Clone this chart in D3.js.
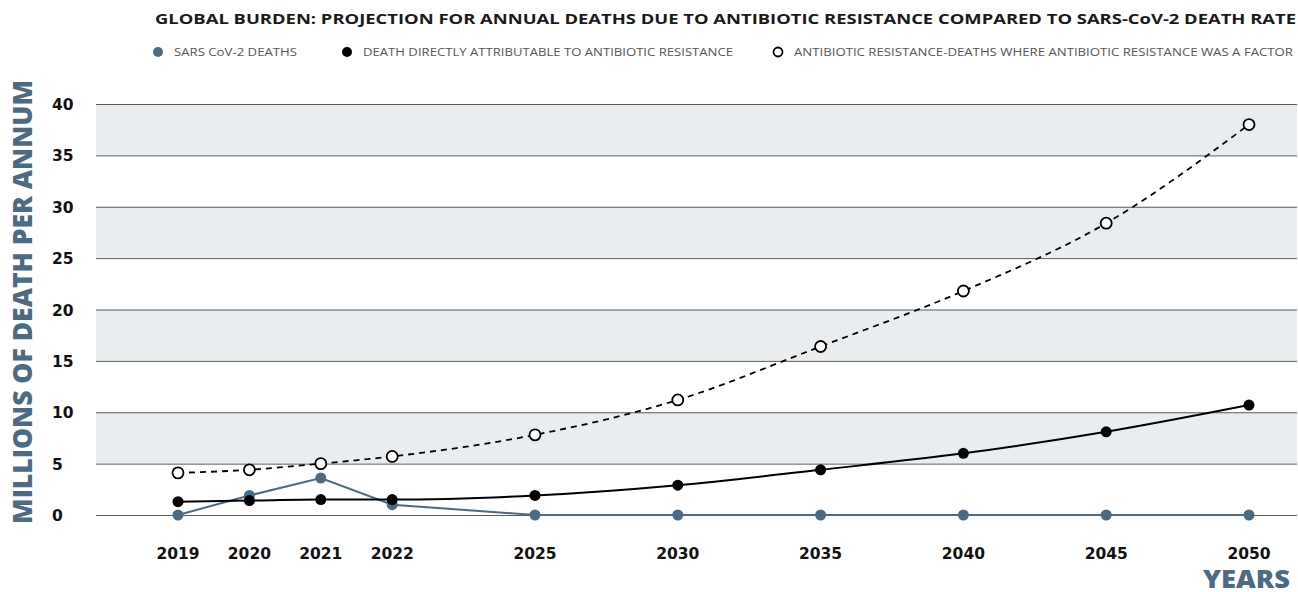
<!DOCTYPE html>
<html>
<head>
<meta charset="utf-8">
<script src="https://cdn.jsdelivr.net/npm/d3@7"></script>
<style>
  body { margin: 0; background: #fff; }
  text { font-family: "Open Sans", "DejaVu Sans", sans-serif; }
  .num { font-family: "DejaVu Sans", sans-serif; }
</style>
</head>
<body>
<div class="chart"></div>
<script>
// data (millions of deaths per year)
const years = [2019, 2020, 2021, 2022, 2025, 2030, 2035, 2040, 2045, 2050];
const sarsDeaths = [0, 1.9, 3.6, 1.0, 0, 0, 0, 0, 0, 0];
const directDeaths = [1.3, 1.4, 1.5, 1.5, 1.9, 2.9, 4.4, 6.0, 8.1, 10.7];
const factorDeaths = [4.1, 4.4, 5.0, 5.7, 7.8, 11.2, 16.4, 21.8, 28.4, 38];
const yTicks = [0, 5, 10, 15, 20, 25, 30, 35, 40];

const titleText = "GLOBAL BURDEN: PROJECTION FOR ANNUAL DEATHS DUE TO ANTIBIOTIC RESISTANCE COMPARED TO SARS-CoV-2 DEATH RATE";
const legendLabels = ["SARS CoV-2 DEATHS", "DEATH DIRECTLY ATTRIBUTABLE TO ANTIBIOTIC RESISTANCE", "ANTIBIOTIC RESISTANCE-DEATHS WHERE ANTIBIOTIC RESISTANCE WAS A FACTOR"];

const width = 1298, height = 592;
const blue = "#4b6b84";

const svg = d3.select(".chart").append("svg")
  .attr("width", width)
  .attr("height", height);

// yearly steps up to 2022, then 5-year steps drawn two slots apart
function slot(year) {
  return year <= 2022 ? year - 2019 : 5 + (year - 2025) / 5 * 2;
}

const x = d3.scaleLinear().domain([0, 15]).range([178, 1249]);
const y = d3.scaleLinear().domain([0, 40]).range([515, 104]);
const plotLeft = 96, plotRight = 1297;

// grey bands
const bands = [[5, 10], [15, 20], [25, 30], [35, 40]];
svg.selectAll(".band").data(bands).enter().append("rect")
  .attr("x", plotLeft)
  .attr("width", plotRight - plotLeft)
  .attr("y", d => y(d[1]))
  .attr("height", d => y(d[0]) - y(d[1]))
  .attr("fill", "#eaedf0");

// gridlines
svg.selectAll(".grid").data(yTicks).enter().append("line")
  .attr("x1", plotLeft).attr("x2", plotRight)
  .attr("y1", d => y(d) + 0.5).attr("y2", d => y(d) + 0.5)
  .attr("stroke", "#5a5a5a")
  .attr("stroke-width", 1);

// y tick labels
svg.selectAll(".ylab").data(yTicks).enter().append("text")
  .attr("class", "num")
  .attr("x", 52)
  .attr("y", d => y(d) + 6)
  .attr("font-size", 15.5)
  .attr("font-weight", 700)
  .attr("fill", "#111")
  .text(d => d);

// x tick labels
svg.selectAll(".xlab").data(years).enter().append("text")
  .attr("class", "num")
  .attr("x", d => x(slot(d)))
  .attr("y", 559)
  .attr("text-anchor", "middle")
  .attr("font-size", 15.5)
  .attr("font-weight", 700)
  .attr("fill", "#111")
  .text(d => d);

// axis titles
svg.append("text")
  .attr("transform", "translate(32,302) rotate(-90)")
  .attr("text-anchor", "middle")
  .attr("font-size", 26)
  .attr("font-weight", 800)
  .attr("fill", blue)
  .attr("textLength", 444)
  .attr("lengthAdjust", "spacingAndGlyphs")
  .text("MILLIONS OF DEATH PER ANNUM");

svg.append("text")
  .attr("x", 1290)
  .attr("y", 588)
  .attr("text-anchor", "end")
  .attr("font-size", 24)
  .attr("font-weight", 800)
  .attr("fill", blue)
  .attr("textLength", 87)
  .attr("lengthAdjust", "spacingAndGlyphs")
  .text("YEARS");

// title
svg.append("text")
  .attr("x", 155)
  .attr("y", 24)
  .attr("font-size", 14)
  .attr("font-weight", 700)
  .attr("fill", "#1a1a1a")
  .attr("textLength", 1141)
  .attr("lengthAdjust", "spacingAndGlyphs")
  .text(titleText);

// legend
const legendX = [158, 347, 778];
const legendW = [123, 370, 499];
const legendFill = [blue, "#000", "#fff"];
const legendStroke = [blue, "#000", "#000"];
const lg = svg.selectAll(".legend").data(legendLabels).enter().append("g")
  .attr("transform", (d, i) => "translate(" + legendX[i] + ",52)");
lg.append("circle")
  .attr("r", (d, i) => i == 2 ? 4.5 : 5)
  .attr("fill", (d, i) => legendFill[i])
  .attr("stroke", (d, i) => legendStroke[i])
  .attr("stroke-width", (d, i) => i == 2 ? 1.8 : 0);
lg.append("text")
  .attr("x", 16)
  .attr("y", 4)
  .attr("font-size", 11)
  .attr("fill", "#555")
  .attr("textLength", (d, i) => legendW[i])
  .attr("lengthAdjust", "spacingAndGlyphs")
  .text(d => d);

// lines
const smooth = d3.line()
  .x((d, i) => x(slot(years[i])))
  .y(d => y(d))
  .curve(d3.curveMonotoneX);
const straight = d3.line()
  .x((d, i) => x(slot(years[i])))
  .y(d => y(d));

svg.append("path")
  .attr("d", straight(sarsDeaths))
  .attr("fill", "none")
  .attr("stroke", blue)
  .attr("stroke-width", 2);

svg.append("path")
  .attr("d", smooth(directDeaths))
  .attr("fill", "none")
  .attr("stroke", "#000")
  .attr("stroke-width", 2);

svg.append("path")
  .attr("d", smooth(factorDeaths))
  .attr("fill", "none")
  .attr("stroke", "#000")
  .attr("stroke-width", 1.8)
  .attr("stroke-dasharray", "6,5");

// points
svg.selectAll(".sars").data(sarsDeaths).enter().append("circle")
  .attr("cx", (d, i) => x(slot(years[i])))
  .attr("cy", d => y(d))
  .attr("r", 5.5)
  .attr("fill", blue);

svg.selectAll(".direct").data(directDeaths).enter().append("circle")
  .attr("cx", (d, i) => x(slot(years[i])))
  .attr("cy", d => y(d))
  .attr("r", 5.5)
  .attr("fill", "#000");

svg.selectAll(".factor").data(factorDeaths).enter().append("circle")
  .attr("cx", (d, i) => x(slot(years[i])))
  .attr("cy", d => y(d))
  .attr("r", 5.5)
  .attr("fill", "#fff")
  .attr("stroke", "#000")
  .attr("stroke-width", 1.8);
</script>
</body>
</html>
